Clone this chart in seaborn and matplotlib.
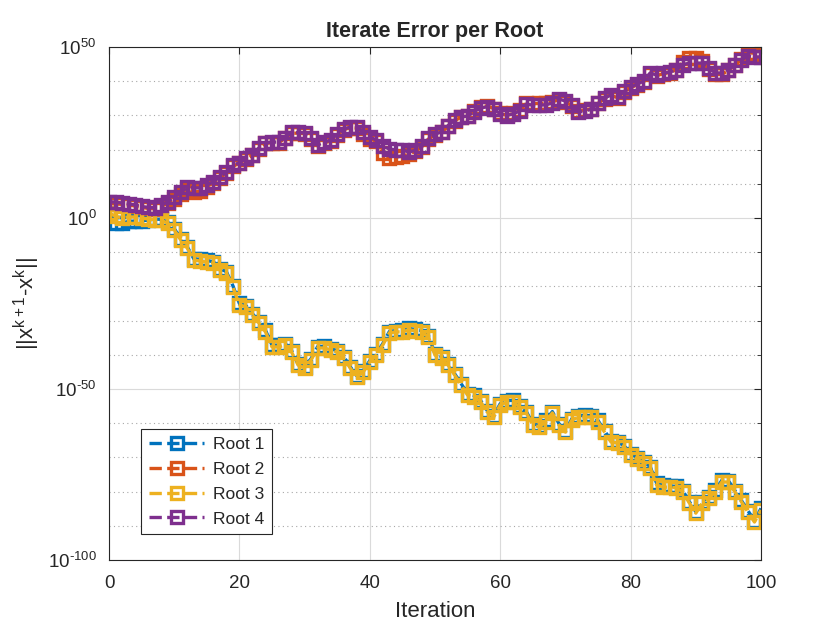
import numpy as np
import pandas as pd
import matplotlib
matplotlib.use('Agg')
import matplotlib.pyplot as plt
import matplotlib.ticker as mticker
import seaborn as sns

# %%
# valores (expoente base 10 do erro por iteracao)
iteracoes = list(range(101))

raiz1_log = [1.2, -1.4, -1.5, -1.0, -0.9, -0.8, -0.6, -0.3, -0.4, -1.2,
             -3.1, -6.0, -8.4, -11.9, -12.1, -12.4, -12.8, -14.8, -15.7, -19.8,
             -25.0, -25.6, -28.0, -30.3, -32.8, -37.2, -37.2, -36.7, -38.8, -42.6,
             -43.5, -41.1, -37.6, -37.5, -38.2, -38.8, -40.5, -43.5, -46.1, -44.6,
             -41.7, -39.7, -36.7, -33.2, -32.9, -32.8, -32.3, -32.6, -32.9, -34.4,
             -39.7, -40.5, -42.6, -45.5, -48.4, -51.4, -51.9, -53.4, -56.3, -57.8,
             -54.3, -53.4, -53.3, -54.9, -56.6, -60.1, -60.7, -59.2, -56.6, -60.1,
             -62.2, -58.7, -57.8, -57.7, -57.8, -59.2, -62.2, -65.1, -65.4, -66.6,
             -68.9, -70.1, -71.2, -72.7, -77.6, -78.2, -78.3, -78.5, -79.7, -82.9,
             -85.9, -82.9, -81.5, -79.6, -76.7, -76.8, -79.7, -82.6, -85.6, -88.5,
             -84.9]

raiz2_log = [4.3, 4.1, 4.0, 3.8, 3.5, 3.1, 2.8, 2.7, 3.4, 4.3,
             5.7, 7.1, 8.6, 7.6, 7.8, 9.2, 10.2, 11.6, 13.1, 15.1,
             16.0, 17.2, 18.3, 20.3, 21.8, 22.0, 22.0, 23.3, 24.8, 24.8,
             24.7, 23.1, 21.1, 22.0, 22.5, 24.2, 25.8, 26.4, 26.3, 24.7,
             23.2, 22.4, 19.0, 17.6, 17.8, 18.2, 18.6, 19.5, 20.8, 23.1,
             24.3, 25.0, 26.8, 28.4, 29.5, 29.9, 31.2, 32.6, 32.8, 32.0,
             30.6, 30.0, 30.6, 31.5, 33.5, 33.4, 33.5, 33.6, 34.0, 34.6,
             34.0, 32.8, 31.4, 31.6, 32.0, 33.5, 34.9, 35.8, 35.2, 36.8,
             38.0, 39.0, 39.8, 42.2, 41.6, 42.2, 42.5, 43.4, 45.5, 46.8,
             46.8, 45.8, 43.5, 42.0, 42.0, 43.2, 44.6, 46.4, 48.3, 48.2,
             47.6]

raiz3_log = [1.5, 0.5, 0.0, 0.3, 0.3, 0.0, -0.3, -0.5, -0.7, -1.5,
             -3.5, -6.4, -8.8, -12.3, -12.6, -12.9, -13.2, -15.2, -16.1, -20.2,
             -25.4, -26.0, -28.4, -30.7, -33.3, -37.7, -37.7, -37.1, -39.2, -43.0,
             -43.9, -41.5, -38.0, -38.0, -38.6, -39.2, -40.9, -43.9, -46.5, -45.0,
             -42.1, -40.1, -37.1, -33.6, -33.3, -33.3, -32.7, -33.0, -33.3, -34.8,
             -40.1, -40.9, -43.0, -45.9, -48.8, -51.8, -52.3, -53.8, -56.7, -58.2,
             -54.7, -53.8, -53.8, -55.3, -57.0, -60.5, -61.1, -59.6, -57.0, -60.5,
             -62.6, -59.1, -58.2, -58.2, -58.2, -59.6, -62.6, -65.5, -65.8, -67.0,
             -69.3, -70.5, -71.6, -73.1, -78.1, -78.7, -78.7, -78.9, -80.1, -83.3,
             -86.3, -83.3, -81.9, -80.1, -77.2, -77.2, -80.1, -83.0, -86.0, -88.9,
             -85.4]

raiz4_log = [4.8, 4.6, 4.4, 4.2, 3.8, 3.4, 3.1, 3.0, 3.8, 4.7,
             6.1, 7.5, 9.0, 8.8, 8.8, 9.6, 10.6, 12.0, 13.5, 15.5,
             16.1, 17.5, 18.5, 20.5, 22.0, 22.2, 22.2, 23.5, 25.0, 25.0,
             24.9, 23.4, 21.3, 22.2, 22.8, 24.5, 26.0, 26.6, 26.6, 25.1,
             23.7, 22.8, 21.0, 20.2, 19.9, 19.9, 19.3, 19.8, 21.0, 23.3,
             24.5, 25.2, 27.0, 28.6, 29.6, 29.8, 31.0, 32.2, 32.5, 31.8,
             30.5, 29.9, 30.5, 31.3, 33.3, 33.0, 33.0, 33.1, 33.6, 34.8,
             34.2, 33.0, 31.0, 31.3, 31.8, 33.6, 35.0, 36.0, 35.4, 37.0,
             38.2, 39.2, 40.0, 42.4, 41.8, 42.4, 42.7, 43.3, 44.8, 45.3,
             45.3, 45.3, 43.8, 42.4, 42.4, 43.4, 44.7, 46.2, 47.4, 47.1,
             47.1]

nomes = ['Root 1', 'Root 2', 'Root 3', 'Root 4']
cores = ['#0072BD', '#D95319', '#EDB120', '#7E2F8E']
todas = [raiz1_log, raiz2_log, raiz3_log, raiz4_log]

yticks_maiores = [1e-100, 1e-50, 1e0, 1e50]
ytick_rotulos = [r'10$^{\text{-100}}$', r'10$^{\text{-50}}$', r'10$^{\text{0}}$', r'10$^{\text{50}}$']
xticks = [0, 20, 40, 60, 80, 100]

# %%
sns.set_style('white')
plt.rcParams['font.family'] = ['Liberation Sans', 'DejaVu Sans']
plt.rcParams['mathtext.fontset'] = 'custom'
plt.rcParams['mathtext.rm'] = 'Liberation Sans'
plt.rcParams['mathtext.it'] = 'Liberation Sans:italic'
plt.rcParams['axes.unicode_minus'] = False

fig = plt.figure(figsize=(8.4, 6.3), dpi=100)
ax = fig.add_axes([109/840, 70/630, 652/840, 513/630])

for nome, cor, expoentes in zip(nomes, cores, todas):
    df = pd.DataFrame({'Iteration': iteracoes,
                       'erro': np.power(10.0, np.array(expoentes))})
    sns.lineplot(data=df, x='Iteration', y='erro', ax=ax, color=cor,
                 linestyle='--', linewidth=2.4, marker='s', markersize=8.5,
                 markerfacecolor='none', markeredgecolor=cor,
                 markeredgewidth=2.4, label=nome)

ax.set_yscale('log')
ax.set_ylim(1e-100, 1e50)
ax.set_xlim(0, 100)
ax.yaxis.set_major_locator(mticker.FixedLocator(yticks_maiores))
ax.yaxis.set_major_formatter(mticker.FixedFormatter(ytick_rotulos))
menores = [10.0**k for k in range(-100, 51, 10) if k % 50 != 0]
ax.yaxis.set_minor_locator(mticker.FixedLocator(menores))
ax.yaxis.set_minor_formatter(mticker.NullFormatter())
ax.set_xticks(xticks)

ax.grid(True, which='major', color='#dadada', linewidth=0.8, linestyle='-')
ax.grid(True, which='minor', axis='y', color='#a8a8a8', linewidth=0.8, linestyle=(0, (1, 3)))
ax.set_axisbelow(True)

ax.tick_params(which='both', direction='in', top=True, right=True,
               colors='#262626', labelsize=13.5)
ax.tick_params(which='major', length=5)
ax.tick_params(which='minor', length=3)
ax.tick_params(axis='x', pad=11)
ax.tick_params(axis='y', pad=9)
for s in ax.spines.values():
    s.set_color('#262626')
    s.set_linewidth(0.8)

ax.set_title('Iterate Error per Root', fontsize=15.5, fontweight='bold', pad=7)
ax.set_xlabel('Iteration', fontsize=16, color='#262626', labelpad=6)
ax.set_ylabel(r'||x$^{\mathregular{k+1}}$-x$^{\mathregular{k}}$||', fontsize=16,
              color='#262626', labelpad=4)

leg = ax.legend(loc='lower left', bbox_to_anchor=(0.049, 0.05), borderaxespad=0,
                fancybox=False, edgecolor='#262626', framealpha=1, fontsize=12.5,
                handlelength=3.2, labelspacing=0.55, borderpad=0.45, handletextpad=0.5)
leg.get_frame().set_linewidth(0.8)

plt.savefig('out.png', dpi=100)
